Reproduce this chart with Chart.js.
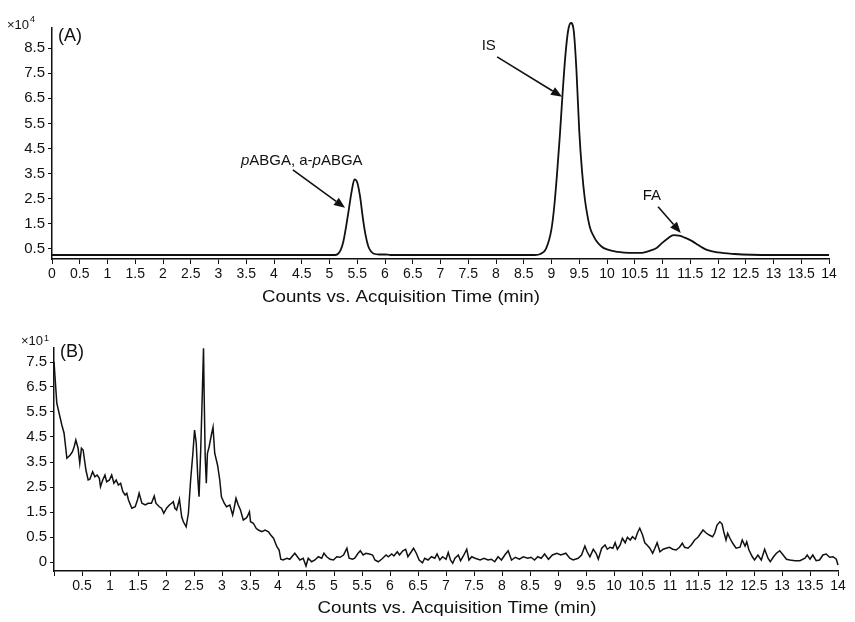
<!DOCTYPE html>
<html>
<head>
<meta charset="utf-8">
<script src="https://cdn.jsdelivr.net/npm/chart.js@4"></script>
<style>
  body { margin: 0; background: #fff; }
  #wrap { position: relative; width: 855px; height: 622px; }
  #chartA { position: absolute; left: 0; top: 0; }
  #chartB { position: absolute; left: 0; top: 310px; }
</style>
</head>
<body>
<div id="wrap">
  <canvas id="chartA" width="855" height="310"></canvas>
  <canvas id="chartB" width="855" height="312"></canvas>
</div>
<script>
// ---------- data: panel A (counts x10^4) ----------
const timeA = [0, 5.1, 5.15, 5.2, 5.25, 5.3, 5.35, 5.4, 5.45, 5.5, 5.55, 5.6, 5.65, 5.7, 5.75, 5.8, 5.9, 6.0, 6.1,
  8.7, 8.8, 8.9, 9.0, 9.05, 9.1, 9.15, 9.2, 9.25, 9.3, 9.35, 9.4, 9.45, 9.5, 9.55, 9.6, 9.65, 9.7, 9.75, 9.8, 9.9,
  10.0, 10.2, 10.4, 10.6, 10.8, 10.9, 11.0, 11.1, 11.2, 11.3, 11.4, 11.5, 11.6, 11.7, 11.8, 12.0, 12.3, 12.6, 13.0, 14.0];
const countsA = [0.26, 0.26, 0.3, 0.45, 0.8, 1.4, 2.1, 2.8, 3.27, 3.15, 2.6, 1.75, 1.05, 0.6, 0.4, 0.31, 0.28, 0.28, 0.26,
  0.26, 0.3, 0.5, 1.3, 2.2, 3.5, 5.0, 6.7, 8.2, 9.2, 9.5, 9.2, 7.6, 5.2, 3.6, 2.5, 1.8, 1.3, 1.05, 0.85, 0.6,
  0.48, 0.38, 0.34, 0.34, 0.45, 0.55, 0.75, 0.93, 1.05, 1.03, 0.95, 0.85, 0.72, 0.58, 0.46, 0.36, 0.3, 0.27, 0.26, 0.26];

// ---------- data: panel B (counts x10^1) ----------
const timeB = [0, 0.05, 0.14, 0.18, 0.23, 0.29, 0.33, 0.36, 0.39, 0.43, 0.46, 0.49, 0.52, 0.57, 0.61, 0.64, 0.69, 0.73,
  0.77, 0.81, 0.83, 0.87, 0.91, 0.94, 0.99, 1.03, 1.07, 1.11, 1.15, 1.19, 1.23, 1.27, 1.30, 1.33, 1.39, 1.45, 1.49,
  1.52, 1.57, 1.63, 1.68, 1.74, 1.79, 1.82, 1.88, 1.92, 1.96, 2.01, 2.06, 2.10, 2.13, 2.16, 2.19, 2.24, 2.28, 2.31,
  2.36, 2.40, 2.44, 2.48, 2.51, 2.54, 2.57, 2.59, 2.62, 2.65, 2.67, 2.68, 2.70, 2.72, 2.74, 2.77, 2.81, 2.84, 2.87,
  2.92, 2.96, 2.99, 3.04, 3.08, 3.14, 3.19, 3.21, 3.25, 3.29, 3.33, 3.38, 3.43, 3.45, 3.49, 3.51, 3.56, 3.61, 3.65,
  3.71, 3.77, 3.83, 3.87, 3.92, 3.98, 4.02, 4.05, 4.09, 4.16, 4.21, 4.30,
  4.39, 4.45, 4.50, 4.54, 4.60, 4.66, 4.72, 4.78, 4.82, 4.87, 4.93, 4.99, 5.05, 5.11, 5.17, 5.23, 5.27, 5.33, 5.37,
  5.43, 5.47, 5.52, 5.57, 5.63, 5.69, 5.73, 5.79, 5.85, 5.93, 5.97, 6.03, 6.07, 6.13, 6.17, 6.23, 6.28, 6.32, 6.38,
  6.42, 6.47, 6.52, 6.58, 6.62, 6.68, 6.74, 6.80, 6.84, 6.89, 6.94, 7.00, 7.04, 7.08, 7.12, 7.16, 7.22, 7.26, 7.32,
  7.37, 7.41, 7.46, 7.52, 7.61, 7.68, 7.75, 7.81, 7.87, 7.93, 7.99, 8.05, 8.11, 8.17, 8.24, 8.31, 8.38, 8.46, 8.52,
  8.58, 8.64, 8.70, 8.76, 8.83, 8.90, 8.98, 9.05, 9.14,
  9.21, 9.27, 9.36, 9.42, 9.48, 9.52, 9.57, 9.63, 9.68, 9.72, 9.78, 9.84, 9.88, 9.93, 9.98, 10.02, 10.06, 10.11,
  10.15, 10.20, 10.24, 10.29, 10.33, 10.38, 10.42, 10.46, 10.51, 10.55, 10.59, 10.64, 10.69, 10.73, 10.77, 10.82,
  10.88, 10.93, 10.99, 11.05, 11.11, 11.17, 11.22, 11.26, 11.32, 11.38, 11.44, 11.50, 11.54, 11.59, 11.64, 11.70,
  11.76, 11.80, 11.84, 11.89, 11.93, 11.96, 12.00, 12.03, 12.07, 12.12, 12.18, 12.25, 12.29, 12.34, 12.37, 12.41,
  12.47, 12.51, 12.57, 12.63, 12.69, 12.75, 12.79, 12.85, 12.90, 12.96, 13.02, 13.08, 13.14, 13.23, 13.32, 13.41,
  13.45, 13.50, 13.55, 13.61, 13.67, 13.73, 13.79, 13.85, 13.91, 13.97, 14.0];
const countsB = [7.51, 5.85, 4.98, 4.65, 3.65, 3.78, 3.91, 4.11, 4.38, 4.05, 3.45, 4.05, 3.98, 3.18, 2.78, 2.81, 3.11, 2.91,
  2.98, 2.85, 2.51, 2.78, 2.98, 2.71, 2.78, 2.98, 2.65, 2.78, 2.58, 2.65, 2.31, 2.18, 2.25, 1.98, 1.65, 1.71, 1.98,
  2.25, 1.85, 1.78, 1.85, 1.85, 2.14, 1.85, 1.71, 1.65, 1.45, 1.65, 1.78, 1.85, 1.91, 1.65, 1.58, 2.01, 1.31, 1.11,
  0.91, 1.45, 2.78, 3.85, 4.78, 4.25, 2.78, 2.11, 3.98, 6.38, 8.05, 6.38, 3.71, 2.65, 3.85, 4.11, 4.58, 4.89, 3.85,
  3.38, 2.78, 2.11, 1.85, 1.71, 1.78, 1.38, 1.58, 2.05, 1.78, 1.58, 1.18, 1.25, 1.31, 1.51, 1.11, 1.05, 0.85, 0.78,
  0.71, 0.78, 0.71, 0.58, 0.45, 0.11, -0.02, -0.39, -0.42, -0.35, -0.39, -0.15,
  -0.42, -0.35, -0.66, -0.35, -0.49, -0.42, -0.29, -0.35, -0.15, -0.29, -0.39, -0.42, -0.29, -0.31, -0.22, 0.05, -0.35, -0.39, -0.35,
  -0.15, -0.05, -0.22, -0.15, -0.18, -0.22, -0.42, -0.49, -0.39, -0.22, -0.29, -0.18, -0.26, -0.09, -0.22, -0.05, 0.01, -0.29, -0.09,
  0.05, -0.15, -0.42, -0.53, -0.35, -0.42, -0.29, -0.35, -0.18, -0.42, -0.29, -0.39, -0.12, -0.42, -0.55, -0.35, -0.22, -0.45, -0.22,
  0.01, -0.42, -0.29, -0.35, -0.42, -0.35, -0.42, -0.39, -0.49, -0.29, -0.42, -0.22, -0.05, -0.42, -0.31, -0.39, -0.29, -0.35, -0.31,
  -0.42, -0.29, -0.35, -0.18, -0.39, -0.22, -0.15, -0.22, -0.15,
  -0.35, -0.42, -0.35, -0.22, 0.14, -0.09, -0.29, 0.01, -0.15, -0.39, 0.05, 0.18, 0.01, 0.09, 0.05, 0.27, 0.01, 0.18,
  0.45, 0.27, 0.49, 0.38, 0.51, 0.41, 0.67, 0.85, 0.58, 0.27, 0.18, 0.05, -0.15, 0.05, 0.27, -0.09,
  0.01, 0.05, 0.09, 0.01, -0.02, 0.09, 0.25, 0.09, 0.05, 0.18, 0.38, 0.49, 0.62, 0.78, 0.67, 0.58,
  0.51, 0.67, 0.98, 1.11, 1.02, 0.71, 0.38, 0.65, 0.45, 0.25, 0.05, 0.09, 0.38, 0.14, 0.31, -0.02,
  -0.29, -0.42, -0.22, -0.42, 0.01, -0.35, -0.49, -0.29, -0.15, -0.05, -0.22, -0.39, -0.42, -0.45, -0.45, -0.35,
  -0.22, -0.39, -0.22, -0.45, -0.42, -0.22, -0.18, -0.31, -0.29, -0.39, -0.62];

// ---------- ticks ----------
const xTicks = [0, 0.5, 1, 1.5, 2, 2.5, 3, 3.5, 4, 4.5, 5, 5.5, 6, 6.5, 7, 7.5, 8, 8.5, 9, 9.5,
  10, 10.5, 11, 11.5, 12, 12.5, 13, 13.5, 14];
const yTicksA = [0.5, 1, 1.5, 2, 2.5, 3, 3.5, 4, 4.5, 5, 5.5, 6, 6.5, 7, 7.5, 8, 8.5, 9];
const yLabelsA = [0.5, 1.5, 2.5, 3.5, 4.5, 5.5, 6.5, 7.5, 8.5];
const yTicksB = [-0.5, 0, 0.5, 1, 1.5, 2, 2.5, 3, 3.5, 4, 4.5, 5, 5.5, 6, 6.5, 7, 7.5, 8];
const yLabelsB = [0.5, 1.5, 2.5, 3.5, 4.5, 5.5, 6.5, 7.5];

const axisTitle = 'Counts vs. Acquisition Time (min)';

// peak labels, placed in data units
const notesA = [
  { parts: [['p', true], ['ABGA, a-', false], ['p', true], ['ABGA', false]], x: 4.5, y: 4.05, from: [4.34, 3.65], to: [5.28, 2.14] },
  { parts: [['IS', false]], x: 7.87, y: 8.63, from: [8.02, 8.15], to: [9.19, 6.56] },
  { parts: [['FA', false]], x: 10.81, y: 2.65, from: [10.92, 2.18], to: [11.33, 1.14] }
];

const FONT = '"Liberation Sans", Arial, sans-serif';
const INK = '#111';

// ---------- labels plugin ----------
const panelLabels = {
  id: 'panelLabels',
  afterDraw(chart, args, opts) {
    const ctx = chart.ctx;
    const area = chart.chartArea;
    const xs = chart.scales.x, ys = chart.scales.y;
    ctx.save();
    ctx.fillStyle = INK;
    ctx.strokeStyle = INK;
    ctx.textBaseline = 'alphabetic';

    // exponent label
    ctx.font = '13px ' + FONT;
    ctx.textAlign = 'right';
    ctx.fillText('\u00d710', opts.expX, opts.expY);
    ctx.font = '9px ' + FONT;
    ctx.textAlign = 'left';
    ctx.fillText(opts.exp, opts.expX + 1, opts.expY - opts.expRise);

    // panel letter
    ctx.font = '18px ' + FONT;
    ctx.fillText(opts.panel, area.left + 6, opts.panelY);

    // x axis title (stretched a little, like the original)
    ctx.font = '17px ' + FONT;
    const tw = ctx.measureText(axisTitle).width;
    ctx.save();
    ctx.translate(opts.titleX, opts.titleY);
    ctx.scale(opts.titleW / tw, 1);
    ctx.textAlign = 'center';
    ctx.textBaseline = 'middle';
    ctx.fillText(axisTitle, 0, 0);
    ctx.restore();

    // peak notes
    (opts.notes || []).forEach(n => {
      let total = 0;
      n.parts.forEach(p => {
        ctx.font = (p[1] ? 'italic ' : '') + '15px ' + FONT;
        total += ctx.measureText(p[0]).width;
      });
      let cx = xs.getPixelForValue(n.x) - total / 2;
      const cy = ys.getPixelForValue(n.y) + 5;
      ctx.textAlign = 'left';
      n.parts.forEach(p => {
        ctx.font = (p[1] ? 'italic ' : '') + '15px ' + FONT;
        ctx.fillText(p[0], cx, cy);
        cx += ctx.measureText(p[0]).width;
      });
      const x1 = xs.getPixelForValue(n.from[0]), y1 = ys.getPixelForValue(n.from[1]);
      const x2 = xs.getPixelForValue(n.to[0]), y2 = ys.getPixelForValue(n.to[1]);
      const ang = Math.atan2(y2 - y1, x2 - x1);
      const head = 11, wing = 4.5;
      const bx = x2 - head * Math.cos(ang), by = y2 - head * Math.sin(ang);
      ctx.lineWidth = 1.6;
      ctx.beginPath();
      ctx.moveTo(x1, y1);
      ctx.lineTo(bx, by);
      ctx.stroke();
      ctx.beginPath();
      ctx.moveTo(x2, y2);
      ctx.lineTo(bx + wing * Math.sin(ang), by - wing * Math.cos(ang));
      ctx.lineTo(bx - wing * Math.sin(ang), by + wing * Math.cos(ang));
      ctx.closePath();
      ctx.fill();
    });
    ctx.restore();
  }
};

function makeChart(id, times, counts, cfg) {
  const points = times.map((t, i) => ({ x: t, y: counts[i] }));
  return new Chart(document.getElementById(id), {
    type: 'line',
    data: {
      datasets: [{
        data: points,
        borderColor: INK,
        borderWidth: cfg.lineWidth,
        pointRadius: 0,
        fill: false,
        tension: cfg.smooth ? 0.4 : 0,
        cubicInterpolationMode: cfg.smooth ? 'monotone' : 'default',
        clip: false
      }]
    },
    options: {
      responsive: false,
      animation: false,
      devicePixelRatio: 1,
      layout: { padding: cfg.padding },
      plugins: {
        legend: { display: false },
        tooltip: { enabled: false },
        panelLabels: cfg.labels
      },
      scales: {
        x: {
          type: 'linear',
          min: 0,
          max: 14,
          afterBuildTicks: s => { s.ticks = xTicks.map(v => ({ value: v })); },
          afterFit: s => { s.height = cfg.xHeight; },
          grid: { drawOnChartArea: false, color: INK, tickLength: 5, lineWidth: 1 },
          border: { color: INK, width: 1.5 },
          ticks: {
            autoSkip: false,
            maxRotation: 0,
            padding: 2,
            color: INK,
            font: { family: FONT, size: 14 },
            callback: v => (cfg.hideZero && v === 0) ? '' : String(v)
          }
        },
        y: {
          type: 'linear',
          min: cfg.yMin,
          max: cfg.yMax,
          afterBuildTicks: s => { s.ticks = cfg.yTicks.map(v => ({ value: v })); },
          afterFit: s => { s.width = cfg.yWidth; },
          grid: { drawOnChartArea: false, color: INK, tickLength: 4, lineWidth: 1 },
          border: { color: INK, width: 1.5 },
          ticks: {
            padding: 3,
            color: INK,
            font: { family: FONT, size: 15 },
            callback: v => cfg.yLabels.includes(v) ? String(v) : (v === cfg.zeroAt ? '0' : '')
          }
        }
      }
    },
    plugins: [panelLabels]
  });
}

makeChart('chartA', timeA, countsA, {
  smooth: true,
  lineWidth: 1.8,
  padding: { left: 0, top: 28, right: 26, bottom: 0 },
  xHeight: 51,
  yWidth: 52,
  yMin: 0.1,
  yMax: 9.3,
  yTicks: yTicksA,
  yLabels: yLabelsA,
  zeroAt: null,
  hideZero: false,
  labels: { exp: '4', expX: 29, expY: 29, expRise: 7, panel: '(A)', panelY: 41, notes: notesA,
            titleX: 401, titleY: 297, titleW: 278 }
});

makeChart('chartB', timeB, countsB, {
  smooth: false,
  lineWidth: 1.5,
  padding: { left: 0, top: 38, right: 17, bottom: 0 },
  xHeight: 51,
  yWidth: 54,
  yMin: -0.86,
  yMax: 8.06,
  yTicks: yTicksB,
  yLabels: yLabelsB,
  zeroAt: -0.5,
  hideZero: true,
  labels: { exp: '1', expX: 43, expY: 35, expRise: 4, panel: '(B)', panelY: 47, notes: [],
            titleX: 457, titleY: 298, titleW: 279 }
});
</script>
</body>
</html>
